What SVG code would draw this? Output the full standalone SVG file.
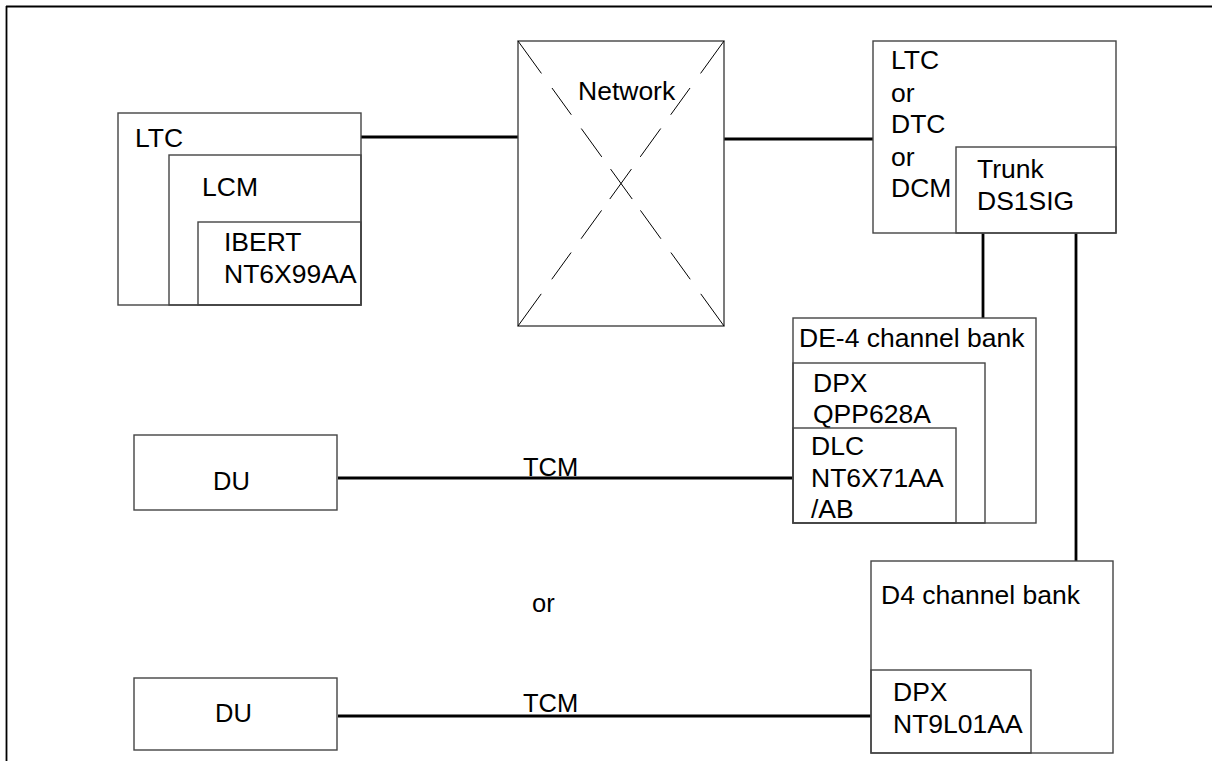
<svg xmlns="http://www.w3.org/2000/svg" width="1212" height="761" viewBox="0 0 1212 761">
<style>
.box{fill:none;stroke:#444;stroke-width:1.4}
.con{fill:none;stroke:#000;stroke-width:2.8}
.frame{fill:none;stroke:#000;stroke-width:1.8}
.dash{fill:none;stroke:#000;stroke-width:1;stroke-dasharray:40 18 33 17 35 15 37 14 35 17 33 18 40}
text{font-family:"Liberation Sans",Arial,sans-serif;font-size:26.5px;fill:#000}
.s{font-size:25.5px}
</style>
<rect width="1212" height="761" fill="#fff"/>
<g id="frame">
<path class="frame" d="M6,6.5H1212M6.5,6V761"/>
</g>
<g id="connectors">
<line class="con" x1="361" y1="137" x2="518" y2="137"/>
<line class="con" x1="724" y1="139" x2="873" y2="139"/>
<line class="con" x1="983" y1="233" x2="983" y2="318"/>
<line class="con" x1="1076" y1="233" x2="1076" y2="561"/>
<line class="con" x1="338" y1="478" x2="793" y2="478"/>
<line class="con" x1="338" y1="716" x2="871" y2="716"/>
<text class="s" x="523" y="476">TCM</text>
<text class="s" x="523" y="712">TCM</text>
</g>
<g id="ltc-left">
<rect class="box" x="118" y="113" width="243" height="192"/>
<text x="135" y="147">LTC</text>
</g>
<g id="lcm">
<rect class="box" x="169" y="155" width="192" height="150"/>
<text x="202" y="196">LCM</text>
</g>
<g id="ibert">
<rect class="box" x="198" y="222" width="163" height="83"/>
<text x="224" y="251">IBERT</text>
<text x="224" y="283">NT6X99AA</text>
</g>
<g id="network">
<rect class="box" x="518" y="41" width="206" height="285"/>
<line class="dash" x1="518" y1="41" x2="724" y2="326"/>
<line class="dash" x1="724" y1="41" x2="518" y2="326"/>
<text x="578" y="100">Network</text>
</g>
<g id="ltc-right">
<rect class="box" x="873" y="41" width="243" height="192"/>
<text x="891" y="69">LTC</text>
<text x="891" y="102">or</text>
<text x="891" y="133">DTC</text>
<text x="891" y="166">or</text>
<text x="891" y="197">DCM</text>
</g>
<g id="trunk">
<rect class="box" x="956" y="147" width="160" height="86"/>
<text x="977" y="178">Trunk</text>
<text x="977" y="210">DS1SIG</text>
</g>
<g id="de4">
<rect class="box" x="793" y="318" width="243" height="205"/>
<text x="799" y="347">DE-4 channel bank</text>
</g>
<g id="dpx-qpp">
<rect class="box" x="793" y="363" width="192" height="160"/>
<text x="813" y="392">DPX</text>
<text x="813" y="423">QPP628A</text>
</g>
<g id="dlc">
<rect class="box" x="793" y="428" width="163" height="95"/>
<text x="811" y="455">DLC</text>
<text x="811" y="487">NT6X71AA</text>
<text x="811" y="518">/AB</text>
</g>
<g id="du1">
<rect class="box" x="134" y="435" width="203" height="75"/>
<text class="s" x="213" y="490">DU</text>
</g>
<g id="or-label">
<text class="s" x="532" y="612">or</text>
</g>
<g id="d4">
<rect class="box" x="871" y="561" width="242" height="192"/>
<text x="881" y="604">D4 channel bank</text>
</g>
<g id="dpx-nt9">
<rect class="box" x="871" y="670" width="160" height="83"/>
<text x="893" y="701">DPX</text>
<text x="893" y="733">NT9L01AA</text>
</g>
<g id="du2">
<rect class="box" x="134" y="678" width="203" height="72"/>
<text class="s" x="215" y="722">DU</text>
</g>
</svg>
